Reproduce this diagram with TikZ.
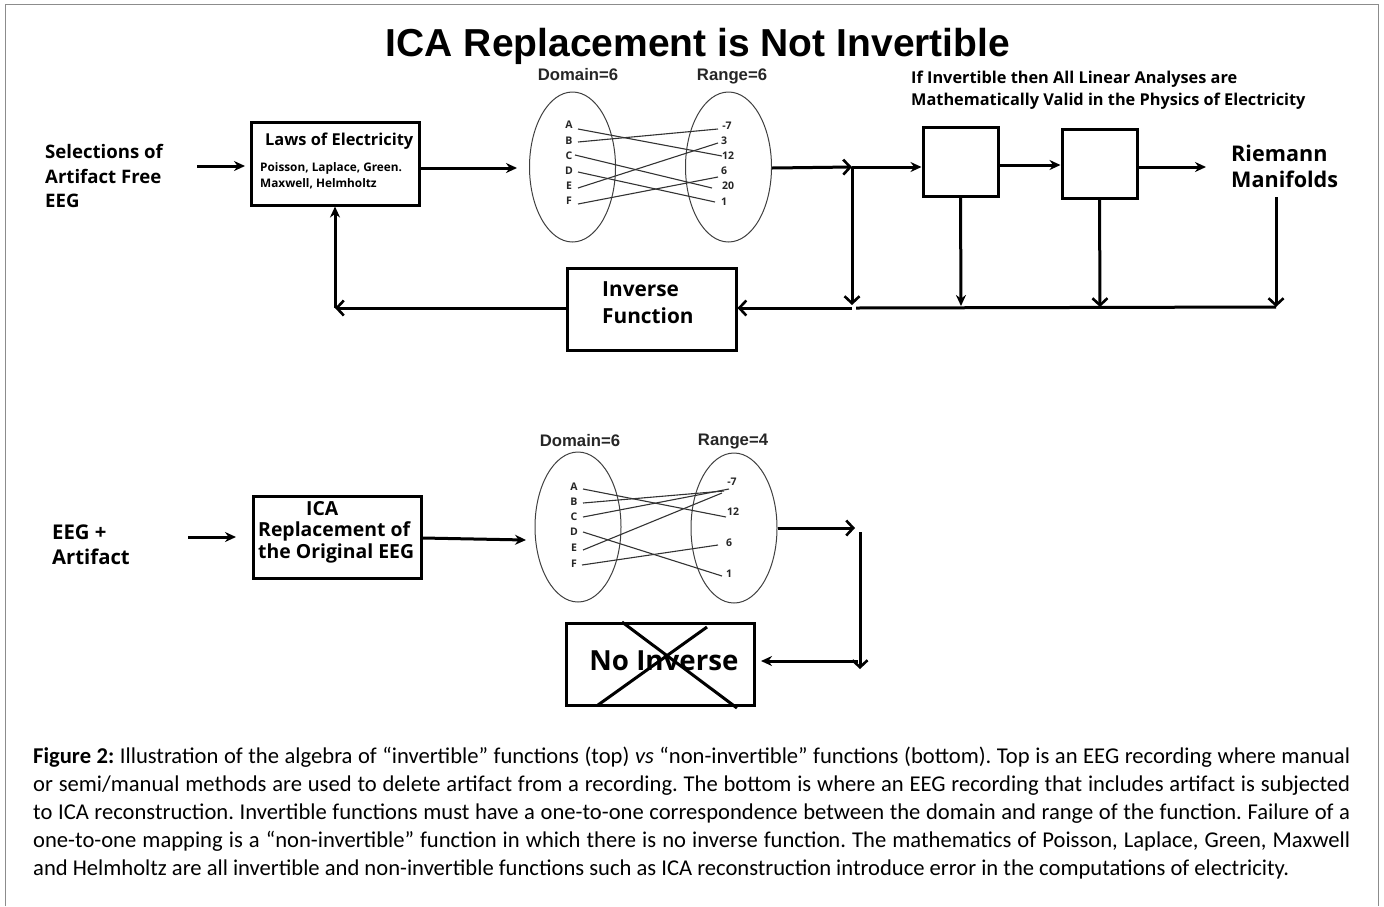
\documentclass[tikz,border=0pt]{standalone}
\usepackage{fontspec}
\setmainfont{Carlito}
\newfontfamily\lab{Open Sans}
\newfontfamily\ari{Liberation Sans}
\usetikzlibrary{shapes.geometric,arrows.meta}
\tikzset{
 x=1pt,y=-1pt,
 ell/.style={draw=black!75,ellipse,line width=1pt,minimum width=86pt,minimum height=150pt,inner sep=0},
 thin map/.style={draw=black!80,line width=1.1pt},
 plain/.style={line width=3pt},
 flow/.style={line width=3pt,-{Stealth[length=11pt,width=10pt]}},
 flowo/.style={line width=3pt,-{Straight Barb[length=7pt,width=15pt,line width=2.6pt]}},
 bx/.style={draw,line width=3pt,inner sep=0},
 letter/.style={font=\lab\bfseries\fontsize{10.5}{11}\selectfont,inner sep=0,text=black!85},
 lbl/.style={font=\lab\bfseries\fontsize{18.6}{24}\selectfont,anchor=west,align=left,inner sep=0},
 head/.style={font=\ari\bfseries\fontsize{16.7}{18}\selectfont,inner sep=0,text=black!85},
}
\begin{document}
\begin{tikzpicture}
\useasboundingbox (0,0) rectangle (1384,906);
\draw[black!45,line width=1pt] (5,906) -- (5,4) -- (1378,4) -- (1378,906);
\node[font=\ari\bfseries\fontsize{39}{42}\selectfont,inner sep=0] (title) at (698,46) {ICA Replacement is Not Invertible};
% top row
\node[lbl] (sel) at (45,176) {Selections of\\[.5pt]Artifact Free\\[.5pt]EEG};
\node[bx,minimum width=168pt,minimum height=83pt] (laws) at (335,163.5) {};
\node[font=\lab\bfseries\fontsize{16.4}{18}\selectfont,inner sep=0,anchor=west] (lawst) at (265,141) {Laws of Electricity};
\node[font=\lab\bfseries\fontsize{11.8}{16}\selectfont,inner sep=0,anchor=west,align=left] (lawsb) at (260,176) {Poisson, Laplace, Green.\\Maxwell, Helmholtz};
\coordinate (selout) at (197,166);
\coordinate (lawsin) at (245,166);
\draw[flow] (selout) -- (lawsin);
\node[head] (d1) at (578,75) {Domain=6};
\node[head] (r1) at (732,76) {Range=6};
\node[ell] (el1) at (572.5,167) {};
\node[ell] (er1) at (728.5,167) {};
\foreach \n/\t/\y in {A/A/125,B/B/141,C/C/156,D/D/171,E/E/186,F/F/201}
  \node[letter] (l\n) at (569,\y) {\t};
\node[letter] (n1) at (727,126) {-7};
\node[letter] (n2) at (724,141) {3};
\node[letter] (n3) at (728,156) {12};
\node[letter] (n4) at (724,171) {6};
\node[letter] (n5) at (728,186) {20};
\node[letter] (n6) at (724,202) {1};
\foreach \a/\ax/\ay/\b/\bx/\by in {a/578/129/a/722/156, b/578/142/b/718/129, c/575/155/c/712/188, d/578/172/d/715/202, e/578/188/e/718/143, f/578/204/f/718/177}{
  \coordinate (ms\a) at (\ax,\ay);
  \coordinate (mt\b) at (\bx,\by);
  \draw[thin map] (ms\a) -- (mt\b);
}
\coordinate (el1in) at (517,168);
\draw[flow] (laws.east |- el1in) -- (el1in);
\coordinate (j1) at (852,167);
\draw[flowo] (er1.east |- 0,168) -- (j1);
\node[font=\lab\bfseries\fontsize{16.3}{22}\selectfont,inner sep=0,anchor=west,align=left] (note) at (911,90) {If Invertible then All Linear Analyses are\\Mathematically Valid in the Physics of Electricity};
\node[bx,minimum width=75pt,minimum height=69pt] (b1) at (960.5,161.5) {};
\node[bx,minimum width=75pt,minimum height=69pt] (b2) at (1099.5,163.5) {};
\draw[flow] (j1) -- (b1.west |- j1);
\draw[flow] (b1.east |- 0,165) -- (b2.west |- 0,165);
\coordinate (rin) at (1206,167);
\draw[flow] (b2.east |- 0,167) -- (rin);
\node[lbl,font=\lab\bfseries\fontsize{21.6}{26}\selectfont] (riem) at (1231,166) {Riemann\\Manifolds};
\node[bx,minimum width=169pt,minimum height=82pt] (inv) at (651.5,309) {};
\node[font=\lab\bfseries\fontsize{20.8}{27}\selectfont,inner sep=0,anchor=west,align=left] (invt) at (602,302.5) {Inverse\\Function};
\coordinate (rt) at (1276,307);
\coordinate (g1) at (856,308);
\coordinate (g2) at (852,308);
\coordinate (t1) at (1100,307);
\coordinate (t2) at (961,306);
\coordinate (t3) at (852,305);
\coordinate (rs) at (1276,197);
\draw[plain] (rt) -- (g1);
\draw[flowo] (g2) -- (inv.east |- g2);
\draw[flowo] (j1) -- (t3);
\draw[flow] (b1.south) -- (t2);
\draw[flowo] (b2.south) -- (t1);
\draw[flowo] (rs) -- (rt);
\coordinate (corn) at (335,308);
\draw[flowo] (inv.west |- corn) -- (corn);
\draw[flow] (corn) -- (laws.south);
% bottom row
\node[lbl,font=\lab\bfseries\fontsize{20.3}{25}\selectfont] (eeg) at (52,545) {EEG +\\Artifact};
\coordinate (eout) at (188,537);
\coordinate (ein) at (236,537);
\draw[flow] (eout) -- (ein);
\node[bx,minimum width=168pt,minimum height=82pt] (ica) at (337,537.5) {};
\node[font=\lab\bfseries\fontsize{19.4}{21.5}\selectfont,inner sep=0,align=left,anchor=west] (icat) at (258,532) {\hspace*{48pt}ICA\\Replacement of\\the Original EEG};
\coordinate (ela) at (526,540);
\draw[flow] (ica.east |- 0,538) -- (ela);
\node[head] (d2) at (580,441) {Domain=6};
\node[head] (r2) at (733,442) {Range=4};
\node[ell] (el2) at (578,527) {};
\node[ell] (er2) at (734,528) {};
\foreach \n/\y in {A/487,B/502,C/517,D/532,E/548,F/564}
  \node[letter] (L\n) at (574,\y) {\n};
\node[letter] (N1) at (732,482) {-7};
\node[letter] (N2) at (733,512) {12};
\node[letter] (N3) at (729,543) {6};
\node[letter] (N4) at (729,574) {1};
\foreach \a/\ax/\ay/\bx/\by in {a/583/489/726/517, b/583/503/724/491, c/583/517/729/489, d/583/532/722/576, e/583/550/722/493, f/582/565/718/545}{
  \coordinate (Ms\a) at (\ax,\ay);
  \coordinate (Mt\a) at (\bx,\by);
  \draw[thin map] (Ms\a) -- (Mt\a);
}
\coordinate (k1) at (855,528);
\coordinate (k2) at (860,532);
\coordinate (k3) at (860,669);
\coordinate (k4) at (858,661);
\coordinate (k5) at (761,661);
\draw[flowo] (er2.east) -- (k1);
\draw[flowo] (k2) -- (k3);
\node[bx,minimum width=188pt,minimum height=82pt] (no) at (660,664) {};
\draw[flow] (k4) -- (k5);
\node[font=\lab\bfseries\fontsize{27.7}{30}\selectfont,inner sep=0] (not) at (664,661) {No Inverse};
\coordinate (x1) at (622,622);
\coordinate (x2) at (737,708);
\coordinate (x3) at (598,705);
\coordinate (x4) at (707,627);
\draw[plain] (x1) -- (x2);
\draw[plain] (x3) -- (x4);
% caption
\node[anchor=north west,inner sep=0,text width=1317pt,align=justify,font=\fontsize{22.6}{28}\selectfont] (cap) at (33,746.5) {\frenchspacing\hyphenpenalty=10000 \textbf{Figure 2:} Illustration of the algebra of “invertible” functions (top) \textit{vs} “non-invertible” functions (bottom). Top is an EEG recording where manual or semi/manual methods are used to delete artifact from a recording. The bottom is where an EEG recording that includes artifact is subjected to ICA reconstruction. Invertible functions must have a one-to-one correspondence between the domain and range of the function. Failure of a one-to-one mapping is a “non-invertible” function in which there is no inverse function. The mathematics of Poisson, Laplace, Green, Maxwell and Helmholtz are all invertible and non-invertible functions such as ICA reconstruction introduce error in the computations of electricity.};
\end{tikzpicture}
\end{document}
